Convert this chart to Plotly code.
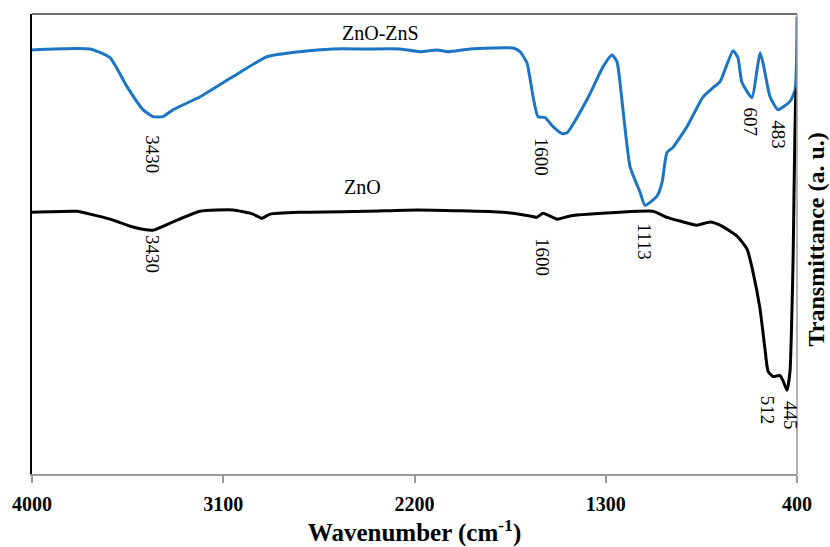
import plotly.graph_objects as go

# ZnO-ZnS spectrum (wavenumber cm-1, transmittance a.u.)
znozns_wn = [4000, 3727, 3633, 3553, 3478, 3431, 3384, 3336, 3209, 3054, 2894, 2739, 2584,
             2424, 2268, 2174, 2094, 2042, 1939, 1736, 1704, 1671, 1642, 1619, 1586, 1548,
             1506, 1482, 1388, 1313, 1271, 1247, 1219, 1186, 1139, 1115, 1059, 1035, 1012,
             984, 918, 842, 795, 762, 701, 678, 659, 612, 588, 574, 560, 527, 489, 433, 409, 400]
znozns_t = [92.2, 92.4, 90.5, 84.2, 79.2, 77.7, 77.7, 79.2, 82.0, 86.4, 90.7, 91.8, 92.4,
            92.4, 92.4, 91.8, 92.2, 91.8, 92.4, 92.6, 91.8, 89.4, 82.0, 77.7, 77.5, 75.5,
            74.0, 74.2, 81.4, 88.5, 91.1, 89.6, 79.2, 66.9, 61.3, 58.4, 60.4, 63.4, 69.9,
            71.0, 75.5, 82.0, 84.0, 85.3, 92.0, 90.5, 85.1, 81.8, 87.9, 91.6, 89.4, 82.0,
            79.2, 81.0, 83.5, 99.4]

# ZnO spectrum
zno_wn = [4000, 3788, 3727, 3633, 3525, 3431, 3336, 3209, 3054, 2960, 2918, 2880, 2739,
          2424, 2188, 1784, 1656, 1624, 1595, 1529, 1468, 1233, 1078, 1012, 951, 871, 809,
          762, 682, 635, 607, 574, 551, 536, 513, 480, 466, 447, 433, 419, 405, 400]
zno_t = [56.9, 57.1, 56.5, 55.4, 53.7, 53.0, 54.8, 57.1, 57.4, 56.5, 55.6, 56.5, 56.9,
         57.1, 57.4, 56.9, 56.1, 55.8, 56.7, 55.4, 56.1, 56.9, 57.1, 55.8, 55.0, 54.1, 54.8,
         54.1, 51.7, 48.9, 43.9, 35.9, 27.3, 22.3, 21.2, 21.4, 20.3, 18.2, 22.3, 45.2, 82.9, 84.0]

# Peak labels: (text, wavenumber, y)
peak_text = ["3430", "3430", "1600", "1600", "1113", "607", "483", "512", "445"]
peak_x = [3430, 3430, 1605, 1600, 1115, 620, 488, 535, 428]
peak_y = [69.5, 47.8, 69.0, 47.2, 50.6, 76.6, 73.8, 13.9, 12.8]

tick_vals = [4000, 3100, 2200, 1300, 400]

SERIF = "Liberation Serif, Times New Roman, serif"

fig = go.Figure()
fig.add_trace(go.Scatter(x=znozns_wn, y=znozns_t, mode="lines",
                         line=dict(color="#1b75c4", width=3, shape="spline", smoothing=0.5),
                         hoverinfo="skip", showlegend=False))
fig.add_trace(go.Scatter(x=zno_wn, y=zno_t, mode="lines",
                         line=dict(color="#000000", width=3, shape="spline", smoothing=0.5),
                         hoverinfo="skip", showlegend=False))

annotations = []
for t, x, y in zip(peak_text, peak_x, peak_y):
    annotations.append(dict(x=x, y=y, xref="x", yref="y", text=t, showarrow=False,
                            textangle=90, font=dict(family=SERIF, size=19, color="#000"),
                            xanchor="center", yanchor="middle"))
annotations.append(dict(x=2362, y=95.9, xref="x", yref="y", text="ZnO-ZnS", showarrow=False,
                        font=dict(family=SERIF, size=20, color="#000"),
                        xanchor="center", yanchor="middle"))
annotations.append(dict(x=2447, y=62.3, xref="x", yref="y", text="ZnO", showarrow=False,
                        font=dict(family=SERIF, size=20, color="#000"),
                        xanchor="center", yanchor="middle"))
annotations.append(dict(x=1, y=0.51, xref="paper", yref="paper", xshift=19,
                        text="<b>Transmittance (a. u.)</b>", showarrow=False, textangle=-90,
                        font=dict(family=SERIF, size=24, color="#000"),
                        xanchor="center", yanchor="middle"))

fig.update_layout(
    width=830, height=547,
    margin=dict(l=32, r=33, t=14, b=73),
    paper_bgcolor="white", plot_bgcolor="white",
    annotations=annotations,
    shapes=[
        dict(type="line", xref="paper", yref="paper", x0=0, x1=1, y0=1, y1=1,
             line=dict(color="#404040", width=1.5)),
        dict(type="line", xref="paper", yref="paper", x0=1, x1=1, y0=0, y1=1,
             line=dict(color="#9a9a9a", width=1.5)),
    ],
)
fig.update_xaxes(range=[4000, 400], tickvals=tick_vals, ticktext=[str(v) for v in tick_vals],
                 showgrid=False, zeroline=False, showline=True, linecolor="#9a9a9a", linewidth=2,
                 ticks="outside", ticklen=7, tickcolor="#9a9a9a", tickwidth=1.5,
                 ticklabelstandoff=4, automargin=False,
                 tickfont=dict(family=SERIF, size=20, color="#000", weight="bold"),
                 title=dict(text="<b>Wavenumber (cm<sup>-1</sup>)</b>", standoff=8,
                            font=dict(family=SERIF, size=25, color="#000")))
fig.update_yaxes(range=[0, 100], showgrid=False, zeroline=False, showticklabels=False,
                 showline=True, linecolor="#000000", linewidth=2, ticks="", automargin=False)

fig.write_html("out.html")
